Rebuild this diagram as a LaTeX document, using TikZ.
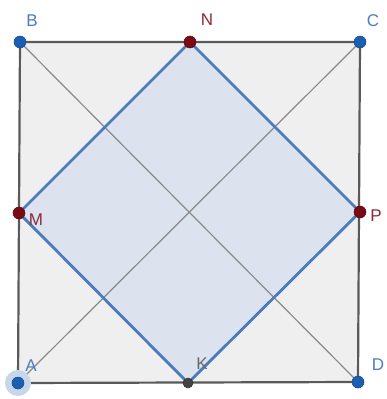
\documentclass[tikz,border=0pt]{standalone}
\usepackage{fontspec}
\setmainfont{Liberation Sans}
\definecolor{sqfill}{HTML}{EFEFEF}
\definecolor{sqedge}{HTML}{5A5A5A}
\definecolor{diag}{HTML}{8A8A8A}
\definecolor{infill}{HTML}{DCE3EE}
\definecolor{inedge}{HTML}{4B7BBD}
\definecolor{ptblue}{HTML}{1A5FB4}
\definecolor{ptred}{HTML}{7A0A14}
\definecolor{lblblue}{HTML}{4C7CC4}
\definecolor{lblred}{HTML}{8C2A38}
\definecolor{ptgray}{HTML}{444444}
\begin{document}
\begin{tikzpicture}[x=1pt,y=-1pt,
  pt/.style={circle,inner sep=0pt,minimum size=12pt,draw=#1!70!black,line width=0.5pt,fill=#1},
  lbl/.style={font=\fontsize{17}{17}\selectfont,inner sep=0pt}]
\useasboundingbox (0,0) rectangle (386,399);
\fill[white] (0,0) rectangle (386,399);
\coordinate (A) at (18,383);
\coordinate (B) at (20,42);
\coordinate (C) at (360,42);
\coordinate (D) at (358,382);
\coordinate (N) at (190,42);
\coordinate (M) at (19,213);
\coordinate (P) at (360,212);
\coordinate (K) at (188,383);
\fill[sqfill] (A) -- (B) -- (C) -- (D) -- cycle;
\fill[infill] (M) -- (N) -- (P) -- (K) -- cycle;
\draw[diag,line width=1.2pt] (B) -- (D);
\draw[diag,line width=1.2pt] (A) -- (C);
\draw[sqedge,line width=2.2pt] (A) -- (B) -- (C) -- (D) -- cycle;
\draw[inedge,line width=2.8pt,line join=round] (M) -- (N) -- (P) -- (K) -- cycle;
\fill[ptblue!25] (A) circle (13);
\node[pt=ptblue] (nA) at (A) {};
\node[pt=ptblue] (nB) at (B) {};
\node[pt=ptblue] (nC) at (C) {};
\node[pt=ptblue] (nD) at (D) {};
\node[pt=ptred] (nN) at (N) {};
\node[pt=ptred] (nM) at (M) {};
\node[pt=ptred] (nP) at (P) {};
\node[pt=ptgray,minimum size=10pt] (nK) at (K) {};
\node[lbl,text=lblblue] (lB) at (32,21) {B};
\node[lbl,text=lblred] (lN) at (207,20) {N};
\node[lbl,text=lblblue] (lC) at (373,21) {C};
\node[lbl,text=lblred] (lM) at (36,220) {M};
\node[lbl,text=lblred] (lP) at (376,216) {P};
\node[lbl,text=lblblue] (lA) at (31,366) {A};
\node[lbl,text=ptgray!80] (lK) at (202,364) {K};
\node[lbl,text=lblblue] (lD) at (378,365) {D};
\end{tikzpicture}
\end{document}
